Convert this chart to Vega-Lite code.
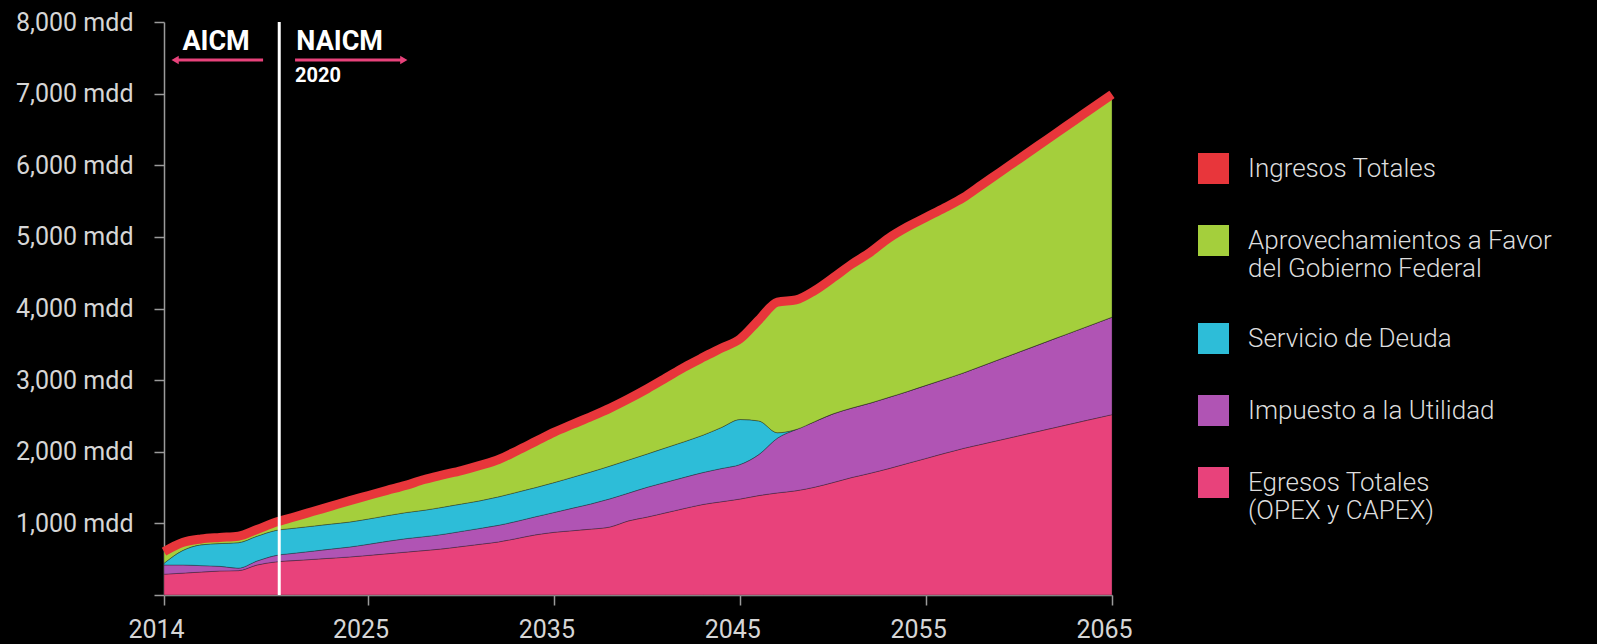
{
  "$schema": "https://vega.github.io/schema/vega-lite/v6.json",
  "autosize": {"type": "none"},
  "width": 948,
  "height": 573,
  "padding": {"left": 164, "top": 22, "right": 485, "bottom": 49},
  "background": "#000000",
  "config": {
    "view": {"stroke": null},
    "font": "Roboto",
    "axis": {
      "domainColor": "#9a9a9a",
      "domainWidth": 1.5,
      "tickColor": "#9a9a9a",
      "tickWidth": 1.5,
      "tickSize": 10,
      "labelFont": "Roboto",
      "labelFontSize": 25,
      "labelColor": "#d6d6d6",
      "labelFlush": false,
      "grid": false,
      "title": null
    },
    "legend": {
      "orient": "none",
      "legendX": 1034,
      "legendY": 131,
      "symbolType": "square",
      "symbolSize": 961,
      "symbolStrokeWidth": 0,
      "symbolOpacity": 1,
      "labelFont": "Roboto",
      "labelFontWeight": 300,
      "labelFontSize": 26,
      "labelColor": "#dddddd",
      "labelOffset": 19,
      "labelLimit": 500,
      "rowPadding": 41,
      "padding": 0
    }
  },
  "datasets": {
    "flujos": [
      {"anio": 2014, "opex_capex": 290, "impuesto": 129, "deuda": 23, "aprovechamientos": 163, "ingresos": 605},
      {"anio": 2015, "opex_capex": 305, "impuesto": 114, "deuda": 201, "aprovechamientos": 112, "ingresos": 732},
      {"anio": 2016, "opex_capex": 320, "impuesto": 90, "deuda": 290, "aprovechamientos": 82, "ingresos": 782},
      {"anio": 2017, "opex_capex": 335, "impuesto": 65, "deuda": 318, "aprovechamientos": 85, "ingresos": 803},
      {"anio": 2018, "opex_capex": 340, "impuesto": 35, "deuda": 355, "aprovechamientos": 90, "ingresos": 820},
      {"anio": 2019, "opex_capex": 418, "impuesto": 56, "deuda": 346, "aprovechamientos": 94, "ingresos": 914},
      {"anio": 2020, "opex_capex": 462, "impuesto": 88, "deuda": 350, "aprovechamientos": 115, "ingresos": 1015},
      {"anio": 2021, "opex_capex": 480, "impuesto": 103, "deuda": 349, "aprovechamientos": 157, "ingresos": 1089},
      {"anio": 2022, "opex_capex": 497, "impuesto": 115, "deuda": 349, "aprovechamientos": 204, "ingresos": 1165},
      {"anio": 2023, "opex_capex": 514, "impuesto": 127, "deuda": 349, "aprovechamientos": 251, "ingresos": 1241},
      {"anio": 2024, "opex_capex": 531, "impuesto": 139, "deuda": 349, "aprovechamientos": 298, "ingresos": 1317},
      {"anio": 2025, "opex_capex": 553, "impuesto": 155, "deuda": 353, "aprovechamientos": 328, "ingresos": 1389},
      {"anio": 2026, "opex_capex": 575, "impuesto": 174, "deuda": 358, "aprovechamientos": 354, "ingresos": 1461},
      {"anio": 2027, "opex_capex": 598, "impuesto": 188, "deuda": 364, "aprovechamientos": 380, "ingresos": 1530},
      {"anio": 2028, "opex_capex": 620, "impuesto": 195, "deuda": 368, "aprovechamientos": 429, "ingresos": 1612},
      {"anio": 2029, "opex_capex": 644, "impuesto": 202, "deuda": 379, "aprovechamientos": 451, "ingresos": 1676},
      {"anio": 2030, "opex_capex": 676, "impuesto": 212, "deuda": 382, "aprovechamientos": 467, "ingresos": 1737},
      {"anio": 2031, "opex_capex": 708, "impuesto": 222, "deuda": 385, "aprovechamientos": 495, "ingresos": 1810},
      {"anio": 2032, "opex_capex": 741, "impuesto": 232, "deuda": 397, "aprovechamientos": 522, "ingresos": 1892},
      {"anio": 2033, "opex_capex": 790, "impuesto": 240, "deuda": 405, "aprovechamientos": 580, "ingresos": 2015},
      {"anio": 2034, "opex_capex": 840, "impuesto": 253, "deuda": 407, "aprovechamientos": 645, "ingresos": 2145},
      {"anio": 2035, "opex_capex": 875, "impuesto": 278, "deuda": 417, "aprovechamientos": 705, "ingresos": 2275},
      {"anio": 2036, "opex_capex": 898, "impuesto": 315, "deuda": 432, "aprovechamientos": 740, "ingresos": 2385},
      {"anio": 2037, "opex_capex": 920, "impuesto": 353, "deuda": 447, "aprovechamientos": 774, "ingresos": 2494},
      {"anio": 2038, "opex_capex": 950, "impuesto": 393, "deuda": 457, "aprovechamientos": 810, "ingresos": 2610},
      {"anio": 2039, "opex_capex": 1035, "impuesto": 388, "deuda": 462, "aprovechamientos": 855, "ingresos": 2740},
      {"anio": 2040, "opex_capex": 1088, "impuesto": 416, "deuda": 465, "aprovechamientos": 911, "ingresos": 2880},
      {"anio": 2041, "opex_capex": 1148, "impuesto": 426, "deuda": 481, "aprovechamientos": 975, "ingresos": 3030},
      {"anio": 2042, "opex_capex": 1208, "impuesto": 435, "deuda": 498, "aprovechamientos": 1041, "ingresos": 3182},
      {"anio": 2043, "opex_capex": 1264, "impuesto": 446, "deuda": 522, "aprovechamientos": 1086, "ingresos": 3318},
      {"anio": 2044, "opex_capex": 1302, "impuesto": 464, "deuda": 574, "aprovechamientos": 1108, "ingresos": 3448},
      {"anio": 2045, "opex_capex": 1340, "impuesto": 482, "deuda": 628, "aprovechamientos": 1128, "ingresos": 3578},
      {"anio": 2046, "opex_capex": 1388, "impuesto": 572, "deuda": 470, "aprovechamientos": 1410, "ingresos": 3840},
      {"anio": 2047, "opex_capex": 1425, "impuesto": 765, "deuda": 75, "aprovechamientos": 1825, "ingresos": 4090},
      {"anio": 2048, "opex_capex": 1455, "impuesto": 855, "deuda": 0, "aprovechamientos": 1810, "ingresos": 4120},
      {"anio": 2049, "opex_capex": 1505, "impuesto": 915, "deuda": 0, "aprovechamientos": 1830, "ingresos": 4250},
      {"anio": 2050, "opex_capex": 1570, "impuesto": 960, "deuda": 0, "aprovechamientos": 1900, "ingresos": 4430},
      {"anio": 2051, "opex_capex": 1640, "impuesto": 970, "deuda": 0, "aprovechamientos": 2010, "ingresos": 4620},
      {"anio": 2052, "opex_capex": 1700, "impuesto": 980, "deuda": 0, "aprovechamientos": 2105, "ingresos": 4785},
      {"anio": 2053, "opex_capex": 1765, "impuesto": 995, "deuda": 0, "aprovechamientos": 2225, "ingresos": 4985},
      {"anio": 2054, "opex_capex": 1837, "impuesto": 1004, "deuda": 0, "aprovechamientos": 2300, "ingresos": 5141},
      {"anio": 2055, "opex_capex": 1907, "impuesto": 1020, "deuda": 0, "aprovechamientos": 2347, "ingresos": 5274},
      {"anio": 2056, "opex_capex": 1978, "impuesto": 1035, "deuda": 0, "aprovechamientos": 2393, "ingresos": 5406},
      {"anio": 2057, "opex_capex": 2046, "impuesto": 1054, "deuda": 0, "aprovechamientos": 2448, "ingresos": 5548},
      {"anio": 2058, "opex_capex": 2105, "impuesto": 1092, "deuda": 0, "aprovechamientos": 2531, "ingresos": 5728},
      {"anio": 2059, "opex_capex": 2164, "impuesto": 1131, "deuda": 0, "aprovechamientos": 2613, "ingresos": 5908},
      {"anio": 2060, "opex_capex": 2223, "impuesto": 1169, "deuda": 0, "aprovechamientos": 2696, "ingresos": 6088},
      {"anio": 2061, "opex_capex": 2282, "impuesto": 1207, "deuda": 0, "aprovechamientos": 2779, "ingresos": 6268},
      {"anio": 2062, "opex_capex": 2341, "impuesto": 1246, "deuda": 0, "aprovechamientos": 2862, "ingresos": 6449},
      {"anio": 2063, "opex_capex": 2400, "impuesto": 1284, "deuda": 0, "aprovechamientos": 2945, "ingresos": 6629},
      {"anio": 2064, "opex_capex": 2459, "impuesto": 1322, "deuda": 0, "aprovechamientos": 3029, "ingresos": 6810},
      {"anio": 2065, "opex_capex": 2518, "impuesto": 1361, "deuda": 0, "aprovechamientos": 3111, "ingresos": 6990}
    ]
  },
  "layer": [
    {
      "data": {"name": "flujos"},
      "transform": [
        {"fold": ["opex_capex", "impuesto", "deuda", "aprovechamientos"], "as": ["serie", "valor"]}
      ],
      "mark": {"type": "area", "interpolate": "monotone", "stroke": "#222222", "strokeWidth": 0.6, "strokeOpacity": 0.6},
      "encoding": {
        "x": {
          "field": "anio", "type": "quantitative",
          "scale": {"domain": [2014, 2065], "nice": false, "zero": false},
          "axis": {"values": [2014, 2025, 2035, 2045, 2055, 2065], "format": "d", "labelPadding": 12, "labelOffset": -8, "labelFlush": false, "title": null}
        },
        "y": {
          "field": "valor", "type": "quantitative", "stack": "zero",
          "scale": {"domain": [0, 8000], "nice": false},
          "axis": {
            "values": [0, 1000, 2000, 3000, 4000, 5000, 6000, 7000, 8000],
            "labelExpr": "datum.value == 0 ? '' : format(datum.value, ',') + ' mdd'",
            "labelPadding": 21,
            "title": null
          }
        },
        "order": {"field": "serie", "sort": "descending"},
        "color": {
          "field": "serie", "type": "nominal",
          "scale": {
            "domain": ["ingresos", "aprovechamientos", "deuda", "impuesto", "opex_capex"],
            "range": ["#e8363b", "#a4cf3c", "#2dbdd8", "#b054b4", "#e8427b"]
          },
          "legend": {
            "title": null,
            "labelExpr": "datum.value == 'ingresos' ? 'Ingresos Totales' : datum.value == 'aprovechamientos' ? ['Aprovechamientos a Favor', 'del Gobierno Federal'] : datum.value == 'deuda' ? 'Servicio de Deuda' : datum.value == 'impuesto' ? 'Impuesto a la Utilidad' : ['Egresos Totales', '(OPEX y CAPEX)']"
          }
        }
      }
    },
    {
      "data": {"name": "flujos"},
      "mark": {"type": "line", "interpolate": "monotone", "color": "#e8363b", "strokeWidth": 9, "strokeCap": "butt"},
      "encoding": {
        "x": {"field": "anio", "type": "quantitative"},
        "y": {"field": "ingresos", "type": "quantitative"}
      }
    },
    {
      "data": {"values": [{"anio": 2020.2, "desde": 0, "hasta": 8000}]},
      "mark": {"type": "rule", "color": "#ffffff", "strokeWidth": 3},
      "encoding": {
        "x": {"field": "anio", "type": "quantitative"},
        "y": {"field": "desde", "type": "quantitative"},
        "y2": {"field": "hasta"}
      }
    },
    {
      "data": {"values": [
        {"inicio": 2019.33, "fin": 2014.7, "nivel": 7469},
        {"inicio": 2021.05, "fin": 2026.8, "nivel": 7469}
      ]},
      "mark": {"type": "rule", "color": "#e8427b", "strokeWidth": 3},
      "encoding": {
        "x": {"field": "inicio", "type": "quantitative"},
        "x2": {"field": "fin"},
        "y": {"field": "nivel", "type": "quantitative"}
      }
    },
    {
      "data": {"values": [
        {"punta": 2014.6, "nivel": 7469, "sentido": "izquierda"},
        {"punta": 2026.9, "nivel": 7469, "sentido": "derecha"}
      ]},
      "mark": {"type": "point", "filled": true, "opacity": 1, "color": "#e8427b", "size": 70},
      "encoding": {
        "x": {"field": "punta", "type": "quantitative"},
        "y": {"field": "nivel", "type": "quantitative"},
        "shape": {
          "field": "sentido", "type": "nominal",
          "scale": {"domain": ["izquierda", "derecha"], "range": ["triangle-left", "triangle-right"]},
          "legend": null
        }
      }
    },
    {
      "data": {"values": [
        {"pos": 2016.8, "nivel": 7720, "texto": "AICM"},
        {"pos": 2023.45, "nivel": 7720, "texto": "NAICM"}
      ]},
      "mark": {"type": "text", "font": "Roboto", "fontWeight": "bold", "fontSize": 27, "color": "#ffffff", "align": "center", "baseline": "middle"},
      "encoding": {
        "x": {"field": "pos", "type": "quantitative"},
        "y": {"field": "nivel", "type": "quantitative"},
        "text": {"field": "texto"}
      }
    },
    {
      "data": {"values": [{"pos": 2021.05, "nivel": 7245, "texto": "2020"}]},
      "mark": {"type": "text", "font": "Roboto", "fontWeight": "bold", "fontSize": 20, "color": "#ffffff", "align": "left", "baseline": "middle"},
      "encoding": {
        "x": {"field": "pos", "type": "quantitative"},
        "y": {"field": "nivel", "type": "quantitative"},
        "text": {"field": "texto"}
      }
    }
  ]
}
